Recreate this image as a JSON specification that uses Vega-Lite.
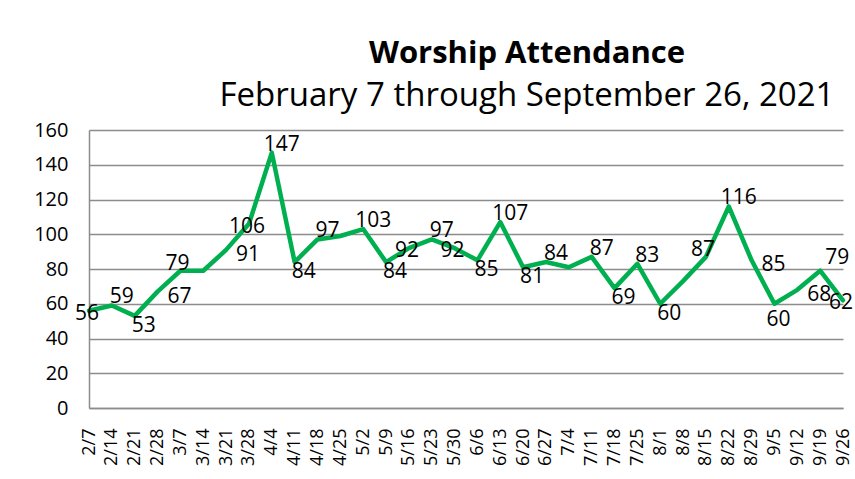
{
  "$schema": "https://vega.github.io/schema/vega-lite/v6.json",
  "autosize": "none",
  "width": 754,
  "height": 278,
  "padding": {"left": 89, "top": 130, "right": 12, "bottom": 71},
  "background": "white",
  "title": {
    "text": "Worship Attendance",
    "subtitle": "February 7 through September 26, 2021",
    "anchor": "middle",
    "dx": 61,
    "offset": 6,
    "font": "Open Sans",
    "fontSize": 31,
    "fontWeight": "bold",
    "color": "#000000",
    "subtitleFont": "Open Sans",
    "subtitleFontSize": 33,
    "subtitleColor": "#000000",
    "subtitlePadding": 10
  },
  "data": {
    "values": [
      {"week": "2/7", "attendance": 56},
      {"week": "2/14", "attendance": 59},
      {"week": "2/21", "attendance": 53},
      {"week": "2/28", "attendance": 67},
      {"week": "3/7", "attendance": 79},
      {"week": "3/14", "attendance": 79},
      {"week": "3/21", "attendance": 91},
      {"week": "3/28", "attendance": 106},
      {"week": "4/4", "attendance": 147},
      {"week": "4/11", "attendance": 84},
      {"week": "4/18", "attendance": 97},
      {"week": "4/25", "attendance": 99},
      {"week": "5/2", "attendance": 103},
      {"week": "5/9", "attendance": 84},
      {"week": "5/16", "attendance": 92},
      {"week": "5/23", "attendance": 97},
      {"week": "5/30", "attendance": 92},
      {"week": "6/6", "attendance": 85},
      {"week": "6/13", "attendance": 107},
      {"week": "6/20", "attendance": 81},
      {"week": "6/27", "attendance": 84},
      {"week": "7/4", "attendance": 81},
      {"week": "7/11", "attendance": 87},
      {"week": "7/18", "attendance": 69},
      {"week": "7/25", "attendance": 83},
      {"week": "8/1", "attendance": 60},
      {"week": "8/8", "attendance": 73},
      {"week": "8/15", "attendance": 87},
      {"week": "8/22", "attendance": 116},
      {"week": "8/29", "attendance": 85},
      {"week": "9/5", "attendance": 60},
      {"week": "9/12", "attendance": 68},
      {"week": "9/19", "attendance": 79},
      {"week": "9/26", "attendance": 62}
    ]
  },
  "encoding": {
    "x": {
      "field": "week",
      "type": "ordinal",
      "sort": null,
      "scale": {"type": "point", "padding": 0},
      "axis": {
        "title": null,
        "labelAngle": -90,
        "labelFont": "Open Sans",
        "labelFontSize": 18,
        "labelColor": "#000000",
        "labelPadding": 20,
        "ticks": false,
        "grid": false,
        "domainColor": "#8c8c8c",
        "domainWidth": 1.5,
        "labelOverlap": false
      }
    },
    "y": {
      "field": "attendance",
      "type": "quantitative",
      "scale": {"domain": [0, 160], "nice": false},
      "axis": {
        "title": null,
        "values": [0, 20, 40, 60, 80, 100, 120, 140, 160],
        "labelFont": "Open Sans",
        "labelFontSize": 20,
        "labelColor": "#000000",
        "labelPadding": 21,
        "ticks": false,
        "grid": true,
        "gridColor": "#8c8c8c",
        "gridWidth": 1.5,
        "domainColor": "#8c8c8c",
        "domainWidth": 1.5
      }
    }
  },
  "layer": [
    {
      "mark": {"type": "line", "color": "#00B050", "strokeWidth": 4.5, "strokeJoin": "round", "strokeCap": "round"}
    },
    {
      "transform": [{"filter": {"field": "week", "oneOf": ["2/14", "4/4", "4/18", "5/2", "5/23", "6/13", "6/27", "7/11", "7/25", "8/22"]}}],
      "mark": {"type": "text", "font": "Open Sans", "fontSize": 21, "color": "#000000", "align": "center", "baseline": "middle", "dx": 10, "dy": -8},
      "encoding": {"text": {"field": "attendance", "type": "quantitative"}}
    },
    {
      "transform": [{"filter": {"field": "week", "oneOf": ["9/19"]}}],
      "mark": {"type": "text", "font": "Open Sans", "fontSize": 21, "color": "#000000", "align": "center", "baseline": "middle", "dx": 17, "dy": -13},
      "encoding": {"text": {"field": "attendance", "type": "quantitative"}}
    },
    {
      "transform": [{"filter": {"field": "week", "oneOf": ["2/21", "4/11", "5/9", "6/6", "6/20", "7/18", "8/1"]}}],
      "mark": {"type": "text", "font": "Open Sans", "fontSize": 21, "color": "#000000", "align": "center", "baseline": "middle", "dx": 9, "dy": 10},
      "encoding": {"text": {"field": "attendance", "type": "quantitative"}}
    },
    {
      "transform": [{"filter": {"field": "week", "oneOf": ["2/28", "3/21", "8/29", "9/12"]}}],
      "mark": {"type": "text", "font": "Open Sans", "fontSize": 21, "color": "#000000", "align": "center", "baseline": "middle", "dx": 22, "dy": 5},
      "encoding": {"text": {"field": "attendance", "type": "quantitative"}}
    },
    {
      "transform": [{"filter": {"field": "week", "oneOf": ["2/7", "3/28", "5/16", "5/30", "9/26"]}}],
      "mark": {"type": "text", "font": "Open Sans", "fontSize": 21, "color": "#000000", "align": "center", "baseline": "middle", "dx": -2, "dy": 3},
      "encoding": {"text": {"field": "attendance", "type": "quantitative"}}
    },
    {
      "transform": [{"filter": {"field": "week", "oneOf": ["3/7", "8/15"]}}],
      "mark": {"type": "text", "font": "Open Sans", "fontSize": 21, "color": "#000000", "align": "center", "baseline": "middle", "dx": -3, "dy": -7},
      "encoding": {"text": {"field": "attendance", "type": "quantitative"}}
    },
    {
      "transform": [{"filter": {"field": "week", "oneOf": ["9/5"]}}],
      "mark": {"type": "text", "font": "Open Sans", "fontSize": 21, "color": "#000000", "align": "center", "baseline": "middle", "dx": 4, "dy": 16},
      "encoding": {"text": {"field": "attendance", "type": "quantitative"}}
    }
  ],
  "config": {
    "view": {"stroke": null},
    "font": "Open Sans"
  }
}
